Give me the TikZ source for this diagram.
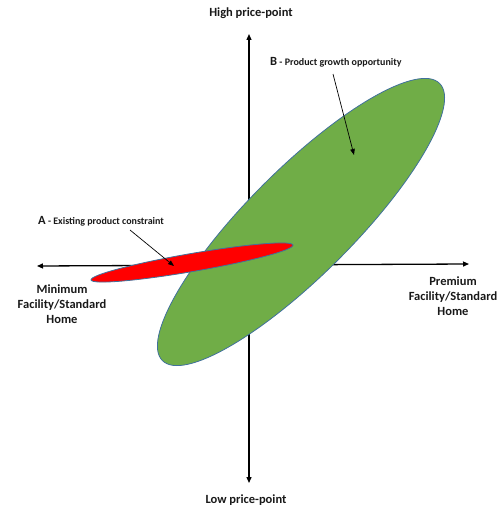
\documentclass[tikz,border=0pt]{standalone}
\usepackage{fontspec}
\setmainfont{Carlito}
\usetikzlibrary{shapes.geometric,arrows.meta}
\definecolor{offgreen}{HTML}{70AD47}
\definecolor{offblue}{HTML}{41719C}
\begin{document}
\begin{tikzpicture}[x=1pt,y=-1pt,
  axisarrow/.style={line width=1.3pt,-{Triangle[length=6pt,width=5pt]}},
  callout/.style={line width=0.7pt,-{Triangle[length=6pt,width=4.5pt]}},
  axislabel/.style={font=\bfseries\fontsize{12.5}{15}\selectfont,align=center,text=black!90,inner sep=0pt},
  calllabel/.style={font=\bfseries\fontsize{10}{12}\selectfont,anchor=west,inner sep=0pt,text=black!90},
  blob/.style={ellipse,draw=offblue,line width=0.8pt,inner sep=0pt}]
\useasboundingbox (0,0) rectangle (498,508);
% axes
\coordinate (vtop) at (249,34);
\coordinate (vbot) at (249,483);
\coordinate (hl) at (37,266);
\coordinate (hr) at (469,264);
\coordinate (o) at (249,265);
\draw[axisarrow] (o) -- (vtop);
\draw[axisarrow] (o) -- (vbot);
\draw[axisarrow] (o) -- (hl);
\draw[axisarrow] (o) -- (hr);
% ellipses
\node[blob,fill=offgreen,minimum width=392pt,minimum height=106pt,rotate=45] (green) at (301,222) {};
\node[blob,fill=red,minimum width=205pt,minimum height=18pt,rotate=9.8] (red) at (192,262.5) {};
% axis labels
\node[axislabel] (high) at (251,13) {High price-point};
\node[axislabel] (low) at (246,500) {Low price-point};
\node[axislabel] (minl) at (62,304) {Minimum\\Facility/Standard\\Home};
\node[axislabel] (maxl) at (453,296) {Premium\\Facility/Standard\\Home};
% callouts
\node[calllabel] (blab) at (270,62) {{\fontsize{12.5}{12}\selectfont B} - Product growth opportunity};
\node[calllabel] (alab) at (38,221) {{\fontsize{12.5}{12}\selectfont A} - Existing product constraint};
\coordinate (bs) at (333,74);
\coordinate (be) at (354,155);
\coordinate (as) at (130,230);
\coordinate (ae) at (174,266);
\draw[callout] (bs) -- (be);
\draw[callout] (as) -- (ae);
\end{tikzpicture}
\end{document}
